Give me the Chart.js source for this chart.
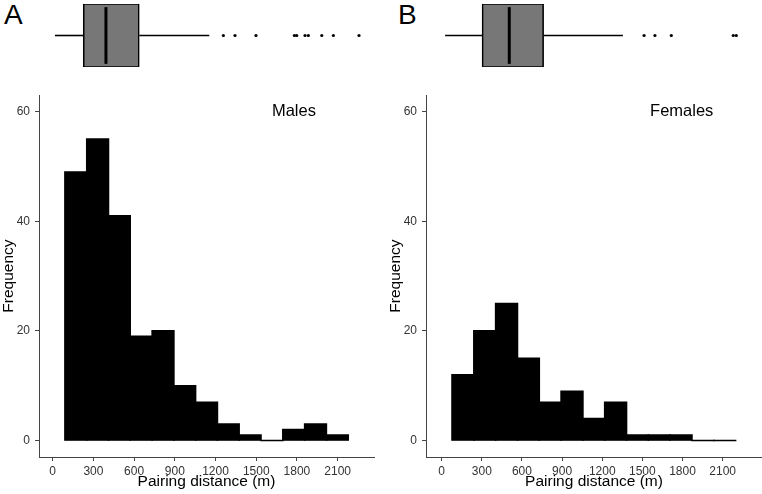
<!DOCTYPE html>
<html>
<head>
<meta charset="utf-8">
<script src="https://cdn.jsdelivr.net/npm/chart.js@4"></script>
<style>
    html, body { margin: 0; padding: 0; background: #fff; }
    #wrap { position: relative; width: 762px; height: 494px; overflow: hidden; font-family: "Liberation Sans", Arial, Helvetica, sans-serif; }
    canvas { position: absolute; }
    .tag { position: absolute; font-size: 28px; line-height: 28px; color: #000; }
</style>
</head>
<body>
<div id="wrap">
    <div class="tag" style="left:4px; top:1px;">A</div>
    <div class="tag" style="left:398px; top:1px;">B</div>
    <canvas id="maleBox" width="381" height="71" style="left:0; top:0;"></canvas>
    <canvas id="femaleBox" width="375" height="71" style="left:387px; top:0;"></canvas>
    <canvas id="maleHist" width="381" height="411" style="left:0; top:83px;"></canvas>
    <canvas id="femaleHist" width="375" height="411" style="left:387px; top:83px;"></canvas>
</div>
<script>
const xTicks = [0, 300, 600, 900, 1200, 1500, 1800, 2100];
const yTicks = [0, 20, 40, 60];

// histogram bins (bin centre in m) and counts
const maleBinMids = [170, 331, 491, 652, 813, 973, 1134, 1294, 1455, 1616, 1776, 1937, 2098];
const maleCounts = [49, 55, 41, 19, 20, 10, 7, 3, 1, 0, 2, 3, 1];
const femaleBinMids = [159, 322, 485, 648, 811, 974, 1137, 1300, 1463, 1626, 1789, 1952, 2115];
const femaleCounts = [12, 20, 25, 15, 7, 9, 4, 7, 1, 1, 1, 0, 0];

// boxplot: lower whisker, Q1, median, Q3, upper whisker
const maleBox = [88, 282, 438, 667, 1148];
const maleOutliers = [1245, 1325, 1469, 1733, 1749, 1806, 1829, 1921, 2001, 2177];
const femaleBox = [77, 346, 544, 794, 1371];
const femaleOutliers = [1525, 1604, 1723, 2174, 2196];

const FONT = '"Liberation Sans", Arial, Helvetica, sans-serif';
Chart.defaults.font.family = FONT;
Chart.defaults.color = '#000';

const panelLabel = {
    id: 'panelLabel',
    afterDatasetsDraw(chart, args, opts) {
        const ctx = chart.ctx;
        ctx.save();
        ctx.font = '16.5px ' + FONT;
        ctx.fillStyle = '#000';
        ctx.textAlign = 'center';
        ctx.textBaseline = 'middle';
        ctx.fillText(opts.text, chart.scales.x.getPixelForValue(opts.x), chart.scales.y.getPixelForValue(opts.y));
        ctx.restore();
    }
};

function makeHist(id, mids, counts, text, textX, xMin, xMax, padRight) {
    const half = (mids[1] - mids[0]) / 2;
    new Chart(document.getElementById(id), {
        type: 'bar',
        data: {
            datasets: [
                {
                    data: mids.map((m, i) => ({ x: m, y: counts[i] })),
                    backgroundColor: '#000',
                    borderWidth: 0,
                    inflateAmount: 0.8,
                    barPercentage: 1,
                    categoryPercentage: 1,
                    order: 1
                },
                {
                    type: 'line',
                    data: [{ x: mids[0] - half, y: 0 }, { x: mids[mids.length - 1] + half, y: 0 }],
                    borderColor: '#cccccc',
                    borderWidth: 1,
                    pointRadius: 0,
                    order: 2
                }
            ]
        },
        options: {
            responsive: false,
            animation: false,
            devicePixelRatio: 1,
            layout: { padding: { top: 4, right: padRight, left: 0, bottom: 0 } },
            plugins: {
                legend: { display: false },
                tooltip: { enabled: false },
                panelLabel: { text: text, x: textX, y: 60 }
            },
            scales: {
                x: {
                    type: 'linear',
                    offset: false,
                    min: xMin,
                    max: xMax,
                    afterBuildTicks: s => { s.ticks = xTicks.map(v => ({ value: v })); },
                    afterFit: s => { s.height = 37; },
                    grid: { offset: false, drawOnChartArea: false, drawTicks: true, tickLength: 4, color: '#444' },
                    border: { display: true, color: '#444', width: 1 },
                    ticks: { color: '#333', font: { size: 12 }, padding: 3, maxRotation: 0, callback: v => String(v) },
                    title: { display: true, text: 'Pairing distance (m)', color: '#000', font: { size: 15.5 }, padding: { top: 0, bottom: 3 } }
                },
                y: {
                    min: -3,
                    max: 63,
                    afterBuildTicks: s => { s.ticks = yTicks.map(v => ({ value: v })); },
                    afterFit: s => { s.width = 39; },
                    grid: { drawOnChartArea: false, drawTicks: true, tickLength: 4, color: '#444' },
                    border: { display: true, color: '#444', width: 1 },
                    ticks: { color: '#333', font: { size: 12 }, padding: 5, callback: v => String(v) },
                    title: { display: true, text: 'Frequency', color: '#000', font: { size: 15.5, lineHeight: 1.1 }, padding: { top: 0, bottom: 0 } }
                }
            }
        },
        plugins: [panelLabel]
    });
}

function makeBox(id, box, outliers, xMin, xMax, padRight) {
    const lineStyle = { type: 'line', borderColor: '#000', pointRadius: 0, fill: false };
    new Chart(document.getElementById(id), {
        type: 'bar',
        data: {
            datasets: [
                Object.assign({}, lineStyle, { data: [{ x: box[0], y: 0 }, { x: box[1], y: 0 }], borderWidth: 1.6 }),
                Object.assign({}, lineStyle, { data: [{ x: box[3], y: 0 }, { x: box[4], y: 0 }], borderWidth: 1.6 }),
                {
                    data: [{ x: [box[1], box[3]], y: 0 }],
                    backgroundColor: '#777777',
                    borderColor: '#000',
                    borderWidth: 1.6,
                    borderSkipped: false,
                    barThickness: 64
                },
                Object.assign({}, lineStyle, { data: [{ x: box[2], y: -0.9 }, { x: box[2], y: 0.9 }], borderWidth: 3, order: -1 }),
                {
                    type: 'line',
                    showLine: false,
                    data: outliers.map(v => ({ x: v, y: 0 })),
                    pointRadius: 1.6,
                    pointBackgroundColor: '#000',
                    pointBorderWidth: 0
                }
            ]
        },
        options: {
            indexAxis: 'y',
            responsive: false,
            animation: false,
            devicePixelRatio: 1,
            layout: { padding: { left: 39, right: padRight, top: 0, bottom: 0 } },
            plugins: { legend: { display: false }, tooltip: { enabled: false } },
            scales: {
                x: { type: 'linear', min: xMin, max: xMax, offset: false, display: false },
                y: { type: 'linear', min: -1, max: 1, offset: false, display: false }
            }
        }
    });
}

makeBox('maleBox', maleBox, maleOutliers, -22, 2280, 7);
makeBox('femaleBox', femaleBox, femaleOutliers, -62, 2354, 0);
makeHist('maleHist', maleBinMids, maleCounts, 'Males', 1778, -101, 2368, 7);
makeHist('femaleHist', femaleBinMids, femaleCounts, 'Females', 1794, -117, 2394, 0);
</script>
</body>
</html>
